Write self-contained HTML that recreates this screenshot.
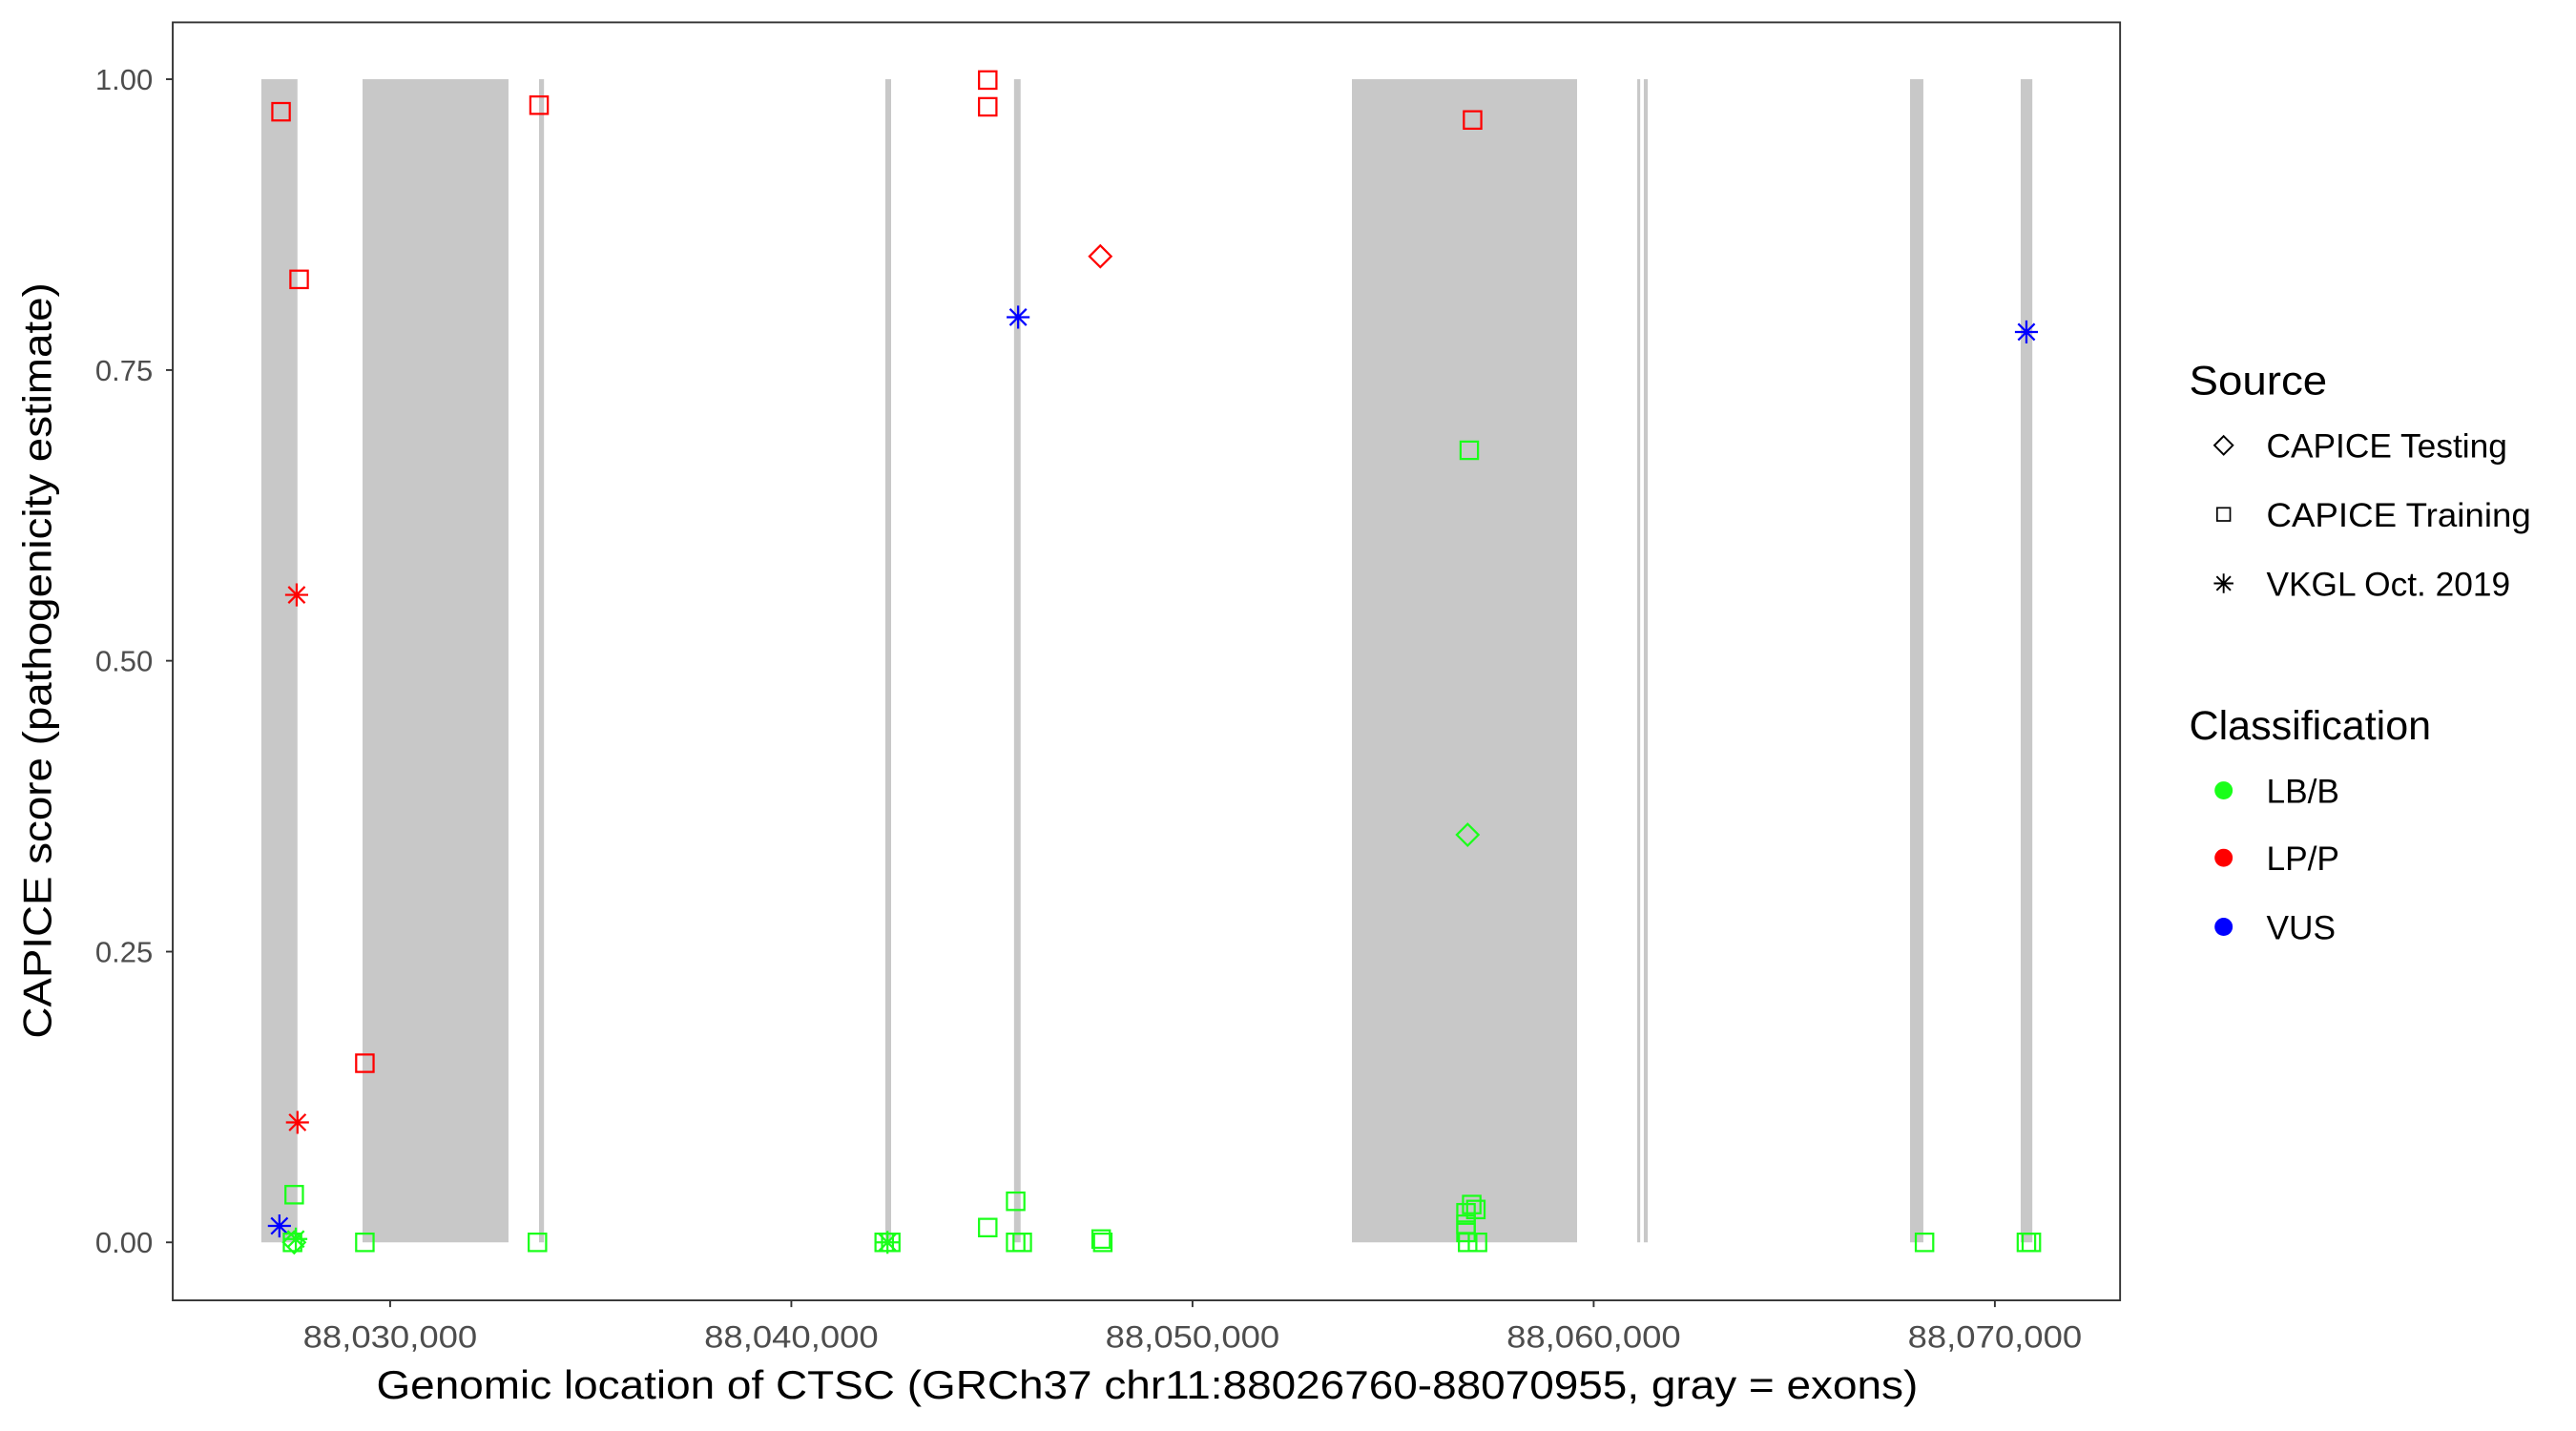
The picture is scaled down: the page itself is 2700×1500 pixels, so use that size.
<!DOCTYPE html>
<html><head><meta charset="utf-8"><style>
html,body{margin:0;padding:0;background:#fff;}
svg{display:block;}
text{font-family:"Liberation Sans",Arial,sans-serif;}
</style></head><body>
<svg width="2700" height="1500" viewBox="0 0 1567.4 870.8" preserveAspectRatio="none" xmlns="http://www.w3.org/2000/svg">
<defs>
<rect id="sq" x="-5.3" y="-5.3" width="10.6" height="10.6" fill="none" stroke-width="1.3"/>
<path id="di" d="M0,-6.6 L6.6,0 L0,6.6 L-6.6,0 Z" fill="none" stroke-width="1.3"/>
<path id="as" d="M0,-7 V7 M-7,0 H7 M-5,-5 L5,5 M-5,5 L5,-5" fill="none" stroke-width="1.3"/>
</defs>
<rect width="1567.4" height="870.8" fill="#fff"/>
<g fill="#c8c8c8">
<rect x="159" y="48.2" width="22" height="707.8"/>
<rect x="220.6" y="48.2" width="88.8" height="707.8"/>
<rect x="328" y="48.2" width="3" height="707.8"/>
<rect x="538.7" y="48.2" width="3.5" height="707.8"/>
<rect x="617" y="48.2" width="4" height="707.8"/>
<rect x="822.6" y="48.2" width="137" height="707.8"/>
<rect x="996.2" y="48.2" width="1.8" height="707.8"/>
<rect x="1000.2" y="48.2" width="2.4" height="707.8"/>
<rect x="1162.2" y="48.2" width="8.1" height="707.8"/>
<rect x="1229.5" y="48.2" width="7.1" height="707.8"/>
</g>
<g stroke="#ff0000">
<use href="#sq" x="171" y="68"/><use href="#sq" x="182" y="170"/><use href="#sq" x="328" y="64"/>
<use href="#sq" x="222" y="647"/><use href="#sq" x="601" y="48.7"/><use href="#sq" x="601" y="65"/>
<use href="#sq" x="896" y="73"/>
<use href="#di" x="669.5" y="156"/>
<use href="#as" x="180.5" y="362"/><use href="#as" x="181" y="683"/>
</g>
<g stroke="#0000ff">
<use href="#as" x="170" y="746"/><use href="#as" x="619.5" y="193"/><use href="#as" x="1233" y="202"/>
</g>
<g stroke="#1aff1a">
<use href="#sq" x="179" y="727"/><use href="#sq" x="178" y="756"/><use href="#sq" x="222" y="756"/>
<use href="#sq" x="327" y="756"/><use href="#sq" x="538" y="756"/><use href="#sq" x="542" y="756"/>
<use href="#sq" x="601" y="747"/><use href="#sq" x="618" y="731"/><use href="#sq" x="618" y="756"/>
<use href="#sq" x="622" y="756"/><use href="#sq" x="670" y="754"/><use href="#sq" x="671" y="756"/>
<use href="#sq" x="894" y="274"/><use href="#sq" x="892" y="738"/><use href="#sq" x="892" y="745"/>
<use href="#sq" x="892" y="750"/><use href="#sq" x="895.5" y="733"/><use href="#sq" x="898" y="736"/>
<use href="#sq" x="893" y="756"/><use href="#sq" x="899" y="756"/><use href="#sq" x="1171" y="756"/>
<use href="#sq" x="1233" y="756"/><use href="#sq" x="1236" y="756"/>
<use href="#di" x="893" y="508"/><use href="#di" x="179" y="756"/>
<use href="#as" x="180" y="754"/><use href="#as" x="540" y="756"/>
</g>
<rect x="105.1" y="13.6" width="1184.9" height="777.7" fill="none" stroke="#333" stroke-width="1.1"/>
<g stroke="#333" stroke-width="1.1">
<line x1="101" y1="48.2" x2="105.1" y2="48.2"/>
<line x1="101" y1="225.2" x2="105.1" y2="225.2"/>
<line x1="101" y1="402.1" x2="105.1" y2="402.1"/>
<line x1="101" y1="579.1" x2="105.1" y2="579.1"/>
<line x1="101" y1="756" x2="105.1" y2="756"/>
<line x1="237.4" y1="791.3" x2="237.4" y2="795.4"/>
<line x1="481.5" y1="791.3" x2="481.5" y2="795.4"/>
<line x1="725.6" y1="791.3" x2="725.6" y2="795.4"/>
<line x1="969.7" y1="791.3" x2="969.7" y2="795.4"/>
<line x1="1213.8" y1="791.3" x2="1213.8" y2="795.4"/>
</g>
<g fill="#4d4d4d" font-size="18" text-anchor="end">
<text x="93" y="54.5">1.00</text>
<text x="93" y="231.5">0.75</text>
<text x="93" y="408.4">0.50</text>
<text x="93" y="585.4">0.25</text>
<text x="93" y="762.3">0.00</text>
</g>
<g fill="#4d4d4d" font-size="19" text-anchor="middle">
<text x="237.4" y="820" textLength="106" lengthAdjust="spacingAndGlyphs">88,030,000</text>
<text x="481.5" y="820" textLength="106" lengthAdjust="spacingAndGlyphs">88,040,000</text>
<text x="725.6" y="820" textLength="106" lengthAdjust="spacingAndGlyphs">88,050,000</text>
<text x="969.7" y="820" textLength="106" lengthAdjust="spacingAndGlyphs">88,060,000</text>
<text x="1213.8" y="820" textLength="106" lengthAdjust="spacingAndGlyphs">88,070,000</text>
</g>
<text x="229" y="851" font-size="24" fill="#000" textLength="938" lengthAdjust="spacingAndGlyphs">Genomic location of CTSC (GRCh37 chr11:88026760-88070955, gray = exons)</text>
<text transform="translate(31,632) rotate(-90)" font-size="24" fill="#000" textLength="460" lengthAdjust="spacingAndGlyphs">CAPICE score (pathogenicity estimate)</text>
<text x="1332" y="240" font-size="25" textLength="84" lengthAdjust="spacingAndGlyphs">Source</text>
<g stroke="#000" transform="translate(1353,271) scale(0.85)"><use href="#di"/></g>
<g stroke="#000" transform="translate(1353,313) scale(0.75)"><use href="#sq"/></g>
<g stroke="#000" transform="translate(1353,355) scale(0.85)"><use href="#as"/></g>
<g font-size="20.5">
<text x="1379" y="278.5">CAPICE Testing</text>
<text x="1379" y="320.5" textLength="161" lengthAdjust="spacingAndGlyphs">CAPICE Training</text>
<text x="1379" y="362.5">VKGL Oct. 2019</text>
</g>
<text x="1332" y="450" font-size="25">Classification</text>
<circle cx="1353" cy="481" r="5.5" fill="#1aff1a"/>
<circle cx="1353" cy="522" r="5.5" fill="#ff0000"/>
<circle cx="1353" cy="564" r="5.5" fill="#0000ff"/>
<g font-size="20.5">
<text x="1379" y="488.5">LB/B</text>
<text x="1379" y="529.5">LP/P</text>
<text x="1379" y="571.5">VUS</text>
</g>
</svg>
</body></html>
